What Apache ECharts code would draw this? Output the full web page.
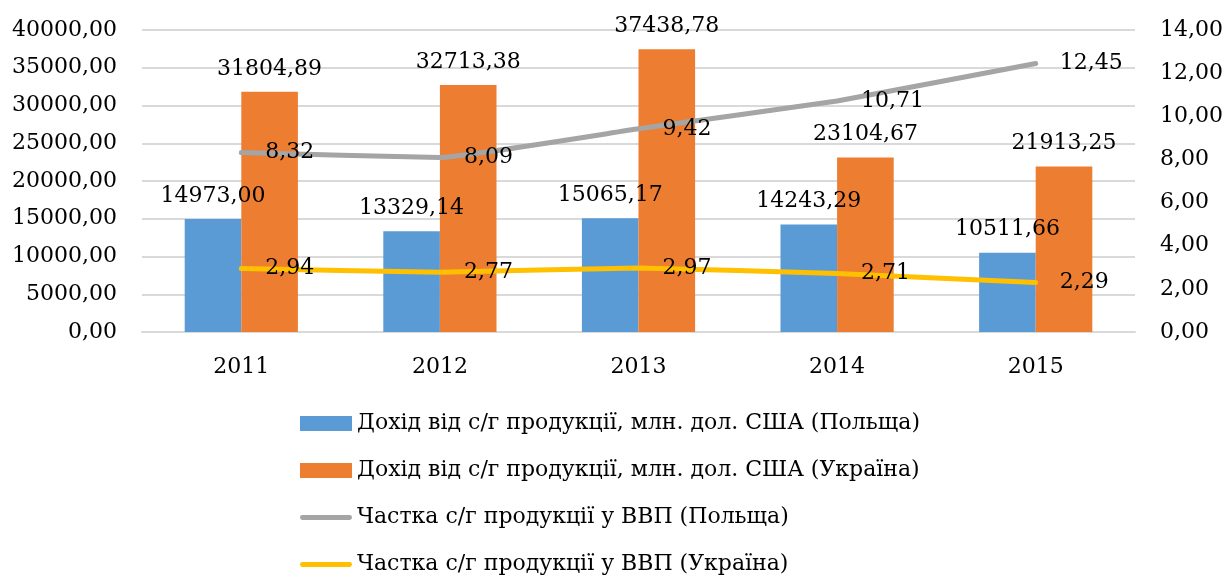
<!DOCTYPE html>
<html lang="uk">
<head>
    <meta charset="UTF-8">
    <title>Chart</title>
    <script src="https://cdn.jsdelivr.net/npm/echarts@6/dist/echarts.min.js"></script>
</head>
<body style="margin:0;background:#fff;">
<div id="main" style="width: 1231px;height:577px;"></div>

<script type="text/javascript">
  // дані
  var years = ['2011', '2012', '2013', '2014', '2015'];
  var incomePoland = [14973.00, 13329.14, 15065.17, 14243.29, 10511.66];
  var incomeUkraine = [31804.89, 32713.38, 37438.78, 23104.67, 21913.25];
  var sharePoland = [8.32, 8.09, 9.42, 10.71, 12.45];
  var shareUkraine = [2.94, 2.77, 2.97, 2.71, 2.29];

  var names = [
    'Дохід від с/г продукції, млн. дол. США (Польща)',
    'Дохід від с/г продукції, млн. дол. США (Україна)',
    'Частка с/г продукції у ВВП (Польща)',
    'Частка с/г продукції у ВВП (Україна)'
  ];

  var font = 'DejaVu Serif';
  function fmt(v) { return Number(v).toFixed(2).replace('.', ','); }
  var lineIcon = 'path://M2,0 L50,0 A2.5,2.5 0 0 1 50,5 L2,5 A2.5,2.5 0 0 1 2,0 Z';

  var myChart = echarts.init(document.getElementById('main'));

  var option = {
    animation: false,
    textStyle: { fontFamily: font },
    grid: { left: 142, right: 96, top: 30, bottom: 245, containLabel: false },
    legend: {
      orient: 'vertical',
      left: 300,
      top: 411,
      padding: 0,
      itemWidth: 52,
      itemHeight: 15,
      itemGap: 22,
      symbolKeepAspect: true,
      textStyle: { fontFamily: font, fontSize: 22, color: '#000', lineHeight: 25 },
      data: [
        { name: names[0], icon: 'rect' },
        { name: names[1], icon: 'rect' },
        { name: names[2], icon: lineIcon },
        { name: names[3], icon: lineIcon }
      ]
    },
    xAxis: {
      type: 'category',
      data: years,
      axisTick: { show: false },
      axisLine: { lineStyle: { color: '#d9d9d9', width: 2 } },
      axisLabel: { color: '#000', fontSize: 22, margin: 24, fontFamily: font }
    },
    yAxis: [
      {
        type: 'value',
        min: 0, max: 40000, interval: 5000,
        axisLabel: { color: '#000', fontSize: 22, margin: 25, fontFamily: font, formatter: fmt },
        splitLine: { lineStyle: { color: '#d9d9d9', width: 2 } },
        axisLine: { show: false },
        axisTick: { show: false }
      },
      {
        type: 'value',
        min: 0, max: 14, interval: 2,
        axisLabel: { color: '#000', fontSize: 22, margin: 25, fontFamily: font, formatter: fmt },
        splitLine: { show: false },
        axisLine: { show: false },
        axisTick: { show: false }
      }
    ],
    series: [
      {
        name: names[0], type: 'bar', data: incomePoland,
        barGap: '0%', barCategoryGap: '43%',
        itemStyle: { color: '#5B9BD5' },
        label: { show: true, position: 'top', distance: 12, color: '#000', fontSize: 22, fontFamily: font,
          formatter: function (p) { return fmt(p.value); } }
      },
      {
        name: names[1], type: 'bar', data: incomeUkraine,
        itemStyle: { color: '#ED7D31' },
        label: { show: true, position: 'top', distance: 12, color: '#000', fontSize: 22, fontFamily: font,
          formatter: function (p) { return fmt(p.value); } }
      },
      {
        name: names[2], type: 'line', yAxisIndex: 1, data: sharePoland,
        symbol: 'circle', symbolSize: 0, showSymbol: true, smooth: 0.1,
        lineStyle: { color: '#A5A5A5', width: 5, cap: 'round' },
        itemStyle: { color: '#A5A5A5' },
        label: { show: true, position: 'right', distance: 24, color: '#000', fontSize: 22, fontFamily: font,
          formatter: function (p) { return fmt(p.value); } },
        z: 3
      },
      {
        name: names[3], type: 'line', yAxisIndex: 1, data: shareUkraine,
        symbol: 'circle', symbolSize: 0, showSymbol: true, smooth: 0.1,
        lineStyle: { color: '#FFC000', width: 5, cap: 'round' },
        itemStyle: { color: '#FFC000' },
        label: { show: true, position: 'right', distance: 24, color: '#000', fontSize: 22, fontFamily: font,
          formatter: function (p) { return fmt(p.value); } },
        z: 3
      }
    ]
  };

  myChart.setOption(option);
</script>
</body>
</html>
